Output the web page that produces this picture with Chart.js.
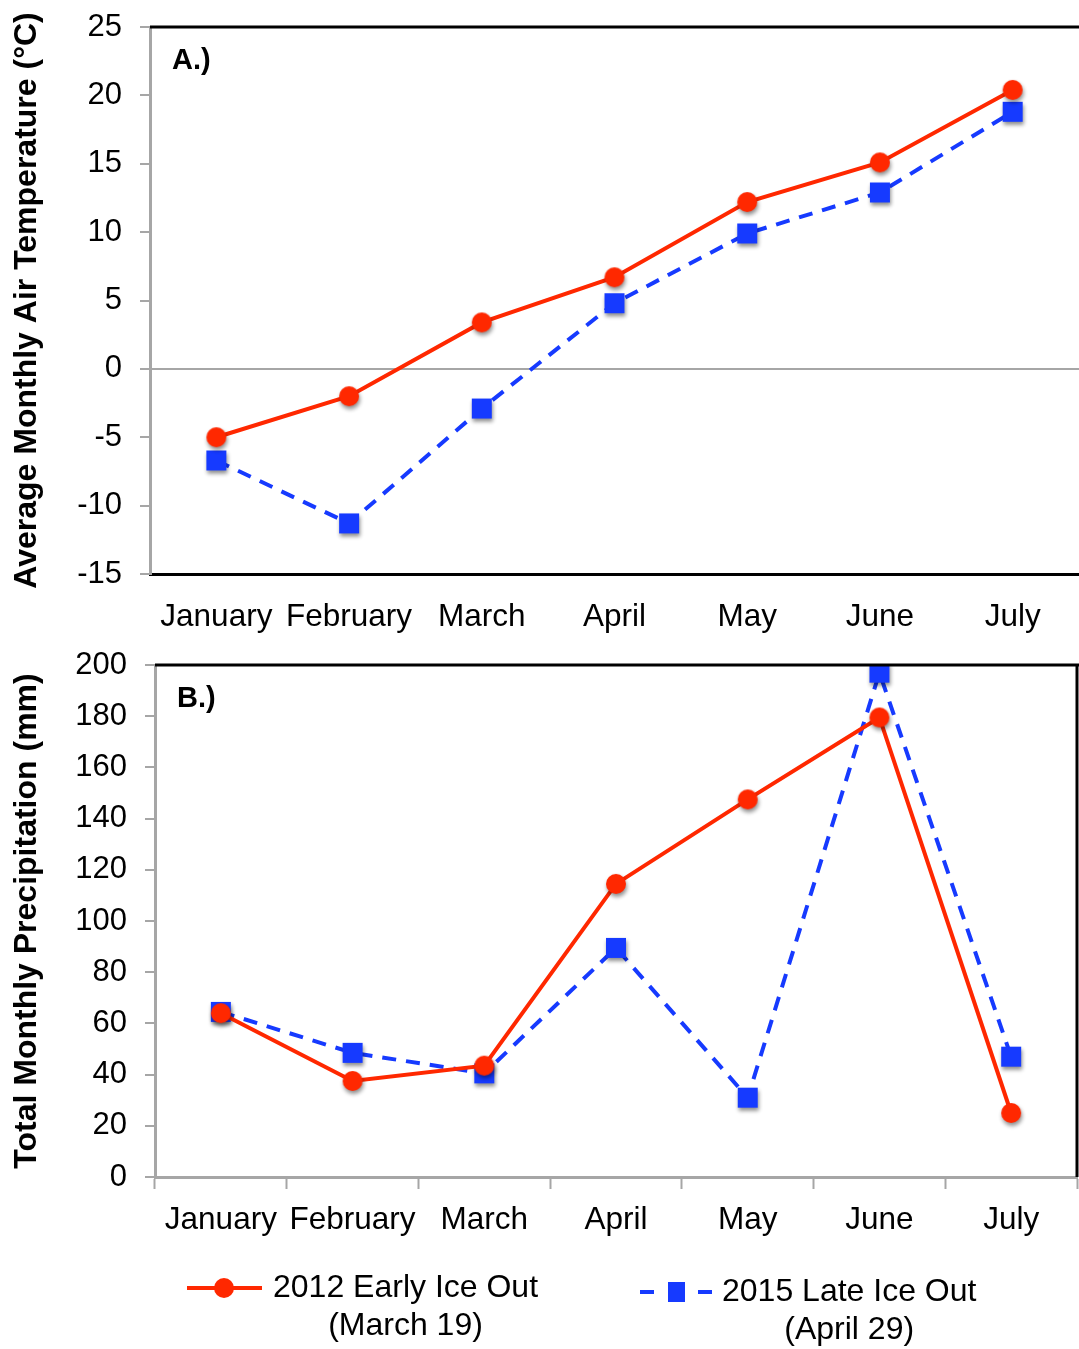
<!DOCTYPE html>
<html>
<head>
<meta charset="utf-8">
<script src="https://cdn.jsdelivr.net/npm/chart.js@4/dist/chart.umd.min.js"></script>
<style>
  html, body { margin: 0; padding: 0; background: #fff; }
  #wrap { position: relative; width: 1079px; height: 1349px; }
  #c1 { position: absolute; left: 0; top: 0; }
  #c2 { position: absolute; left: 0; top: 640px; }
</style>
</head>
<body>
<div id="wrap">
  <canvas id="c1" width="1079" height="640"></canvas>
  <canvas id="c2" width="1079" height="709"></canvas>
</div>
<script>
// Months shown on both panels
const months = ['January', 'February', 'March', 'April', 'May', 'June', 'July'];

// Panel A: average monthly air temperature (°C)
const temp2012 = [-5.0, -2.0, 3.4, 6.7, 12.2, 15.1, 20.4];
const temp2015 = [-6.7, -11.3, -2.9, 4.8, 9.9, 12.9, 18.8];
const tempTicks = [-15, -10, -5, 0, 5, 10, 15, 20, 25];

// Panel B: total monthly precipitation (mm)
const precip2012 = [64, 37.5, 43.5, 114.5, 147.5, 179.5, 25];
const precip2015 = [64.5, 48.5, 40.5, 89.5, 31, 197, 47];
const precipTicks = [0, 20, 40, 60, 80, 100, 120, 140, 160, 180, 200];

// Legend text
const series2012 = ['2012 Early Ice Out', '(March 19)'];
const series2015 = ['2015 Late Ice Out', '(April 29)'];

const FONT = "'Liberation Sans', Arial, Helvetica, sans-serif";
const RED = 'rgb(255,40,0)';
const BLUE = 'rgb(22,58,255)';
const AXIS_GREY = '#a6a6a6';

Chart.defaults.font.family = FONT;
Chart.defaults.color = '#000';

// Marker sprites with a soft drop shadow
function markerSprite(shape, color) {
  const c = document.createElement('canvas');
  c.width = 36;
  c.height = 36;
  const g = c.getContext('2d');
  g.shadowColor = 'rgba(0,0,0,0.45)';
  g.shadowBlur = 4;
  g.shadowOffsetX = 1;
  g.shadowOffsetY = 3;
  g.fillStyle = color;
  if (shape === 'circle') {
    g.beginPath();
    g.arc(18, 18, 10, 0, Math.PI * 2);
    g.fill();
  } else {
    g.fillRect(8, 8, 20, 20);
  }
  return c;
}
const redDot = markerSprite('circle', RED);
const blueSquare = markerSprite('rect', BLUE);

function datasets(a, b) {
  return [
    {
      label: series2012.join(' '),
      data: a,
      borderColor: RED,
      backgroundColor: RED,
      borderWidth: 4,
      pointStyle: redDot,
      pointRadius: 10,
      tension: 0,
      fill: false
    },
    {
      label: series2015.join(' '),
      data: b,
      borderColor: BLUE,
      backgroundColor: BLUE,
      borderWidth: 4,
      borderDash: [14, 10],
      pointStyle: blueSquare,
      pointRadius: 14,
      tension: 0,
      fill: false
    }
  ];
}

// Frame lines, panel letter and (for panel B) the legend
function framePlugin(letter, rightBorder, drawLegend) {
  return {
    id: 'frame' + letter.replace(/\W/g, ''),
    afterDraw(chart) {
      const { ctx, chartArea } = chart;
      ctx.save();
      ctx.strokeStyle = '#000';
      ctx.lineWidth = 3;
      ctx.beginPath();
      ctx.moveTo(chartArea.left, chartArea.top);
      ctx.lineTo(chart.width, chartArea.top);
      if (rightBorder) {
        ctx.moveTo(chartArea.right, chartArea.top);
        ctx.lineTo(chartArea.right, chartArea.bottom);
      }
      ctx.stroke();

      ctx.fillStyle = '#000';
      ctx.font = 'bold 29px ' + FONT;
      ctx.textAlign = 'left';
      ctx.textBaseline = 'middle';
      ctx.fillText(letter, chartArea.left + 22, chartArea.top + 34);

      if (drawLegend) {
        ctx.font = '32px ' + FONT;
        // first entry: solid red line with a circle
        let y = 648;
        ctx.strokeStyle = RED;
        ctx.lineWidth = 4;
        ctx.setLineDash([]);
        ctx.beginPath();
        ctx.moveTo(187, y);
        ctx.lineTo(262, y);
        ctx.stroke();
        ctx.fillStyle = RED;
        ctx.beginPath();
        ctx.arc(224, y, 10, 0, Math.PI * 2);
        ctx.fill();
        ctx.fillStyle = '#000';
        ctx.textAlign = 'left';
        ctx.fillText(series2012[0], 273, y);
        let w = ctx.measureText(series2012[0]).width;
        ctx.textAlign = 'center';
        ctx.fillText(series2012[1], 273 + w / 2, y + 38);

        // second entry: dashed blue line with a square
        y = 652;
        ctx.strokeStyle = BLUE;
        ctx.lineWidth = 4;
        ctx.beginPath();
        ctx.moveTo(640, y);
        ctx.lineTo(654, y);
        ctx.moveTo(698, y);
        ctx.lineTo(712, y);
        ctx.stroke();
        ctx.fillStyle = BLUE;
        ctx.fillRect(668, y - 10, 17, 20);
        ctx.fillStyle = '#000';
        ctx.textAlign = 'left';
        ctx.fillText(series2015[0], 722, y);
        w = ctx.measureText(series2015[0]).width;
        ctx.textAlign = 'center';
        ctx.fillText(series2015[1], 722 + w / 2, y + 38);
      }
      ctx.restore();
    }
  };
}

function fixX(s) { s.height = 66; s.paddingLeft = 0; s.paddingRight = 0; }
function fixY(width) {
  return s => { s.width = width; s.paddingTop = 0; s.paddingBottom = 0; };
}

// Panel A
new Chart(document.getElementById('c1'), {
  type: 'line',
  data: { labels: months, datasets: datasets(temp2012, temp2015) },
  options: {
    responsive: false,
    animation: false,
    events: [],
    layout: { autoPadding: false, padding: { top: 27, right: 0, left: 0, bottom: 0 } },
    plugins: { legend: { display: false }, tooltip: { enabled: false } },
    scales: {
      x: {
        type: 'category',
        offset: true,
        grid: { display: true, drawOnChartArea: false, drawTicks: false },
        border: { color: '#000', width: 3 },
        ticks: { font: { size: 31.5 }, color: '#000', padding: 24, maxRotation: 0, autoSkip: false },
        afterFit: fixX
      },
      y: {
        min: -15,
        max: 25,
        afterBuildTicks: s => { s.ticks = tempTicks.map(v => ({ value: v })); },
        ticks: { font: { size: 31 }, color: '#000', padding: 18 },
        grid: {
          color: c => (c.tick && c.tick.value === 0 ? AXIS_GREY : 'rgba(0,0,0,0)'),
          lineWidth: 2,
          tickColor: AXIS_GREY,
          tickLength: 10,
          tickWidth: 2
        },
        border: { color: AXIS_GREY, width: 3 },
        title: {
          display: true,
          text: 'Average Monthly Air Temperature (°C)',
          font: { size: 32, weight: 'bold' },
          color: '#000',
          padding: { top: 8, bottom: 0 }
        },
        afterFit: fixY(150)
      }
    }
  },
  plugins: [framePlugin('A.)', false, false)]
});

// Panel B
new Chart(document.getElementById('c2'), {
  type: 'line',
  data: { labels: months, datasets: datasets(precip2012, precip2015) },
  options: {
    responsive: false,
    animation: false,
    events: [],
    layout: { autoPadding: false, padding: { top: 25, right: 2, left: 0, bottom: 106 } },
    plugins: { legend: { display: false }, tooltip: { enabled: false } },
    scales: {
      x: {
        type: 'category',
        offset: true,
        grid: {
          display: true,
          offset: true,
          drawOnChartArea: false,
          drawTicks: true,
          tickLength: 12,
          tickWidth: 2,
          tickColor: AXIS_GREY,
          color: AXIS_GREY
        },
        border: { color: AXIS_GREY, width: 3 },
        ticks: { font: { size: 31.5 }, color: '#000', padding: 12, maxRotation: 0, autoSkip: false },
        afterFit: fixX
      },
      y: {
        min: 0,
        max: 200,
        afterBuildTicks: s => { s.ticks = precipTicks.map(v => ({ value: v })); },
        ticks: { font: { size: 31 }, color: '#000', padding: 18 },
        grid: {
          color: 'rgba(0,0,0,0)',
          lineWidth: 2,
          tickColor: AXIS_GREY,
          tickLength: 10,
          tickWidth: 2
        },
        border: { color: AXIS_GREY, width: 3 },
        title: {
          display: true,
          text: 'Total Monthly Precipitation (mm)',
          font: { size: 32, weight: 'bold' },
          color: '#000',
          padding: { top: 8, bottom: 0 }
        },
        afterFit: fixY(155)
      }
    }
  },
  plugins: [framePlugin('B.)', true, true)]
});
</script>
</body>
</html>
